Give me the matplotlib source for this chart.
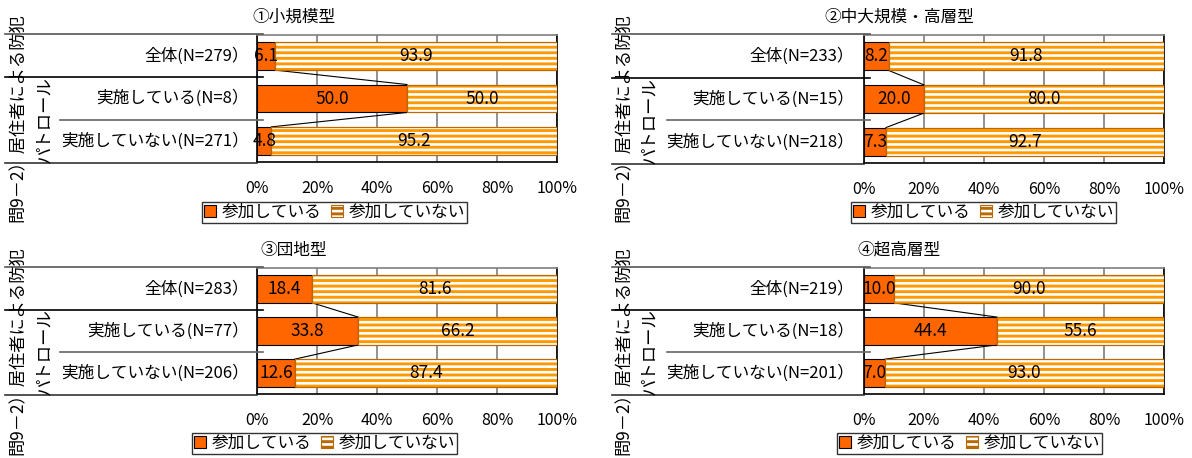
import matplotlib
matplotlib.use("Agg")
import matplotlib.pyplot as plt
from matplotlib.patches import Patch
from matplotlib.lines import Line2D

plt.rcParams['font.family'] = ['Noto Sans CJK JP', 'DejaVu Sans']
plt.rcParams['hatch.linewidth'] = 2.1

# ---- data ----
titles = ["①小規模型", "②中大規模・高層型", "③団地型", "④超高層型"]
row_names = ["全体", "実施している", "実施していない"]
sample_sizes = [[279, 8, 271], [233, 15, 218], [283, 77, 206], [219, 18, 201]]
participating = [[6.1, 50.0, 4.8], [8.2, 20.0, 7.3], [18.4, 33.8, 12.6], [10.0, 44.4, 7.0]]
not_participating = [[93.9, 50.0, 95.2], [91.8, 80.0, 92.7], [81.6, 66.2, 87.4], [90.0, 55.6, 93.0]]
x_ticks = [0, 20, 40, 60, 80, 100]
x_tick_labels = ["0%", "20%", "40%", "60%", "80%", "100%"]
legend_labels = ["参加している", "参加していない"]
side_title = "問9－2）居住者による防犯"
side_sub = "パトロール"

ORANGE = "#FF6600"
STRIPE = "#FF9900"
STRIPE_EDGE = "#B86A00"

W, H = 1192, 458
fig = plt.figure(figsize=(W / 100, H / 100), dpi=100)


def fx(px):
    return px / W


def fy(py):
    return 1 - py / H


# panel layout in pixels: plot box (x0, y0, x1, y1), offsets of the side table
panels = [
    dict(box=(257, 35, 557, 162), left=5, inner=60, col1=18, col2=44, label_r=249, title_x=294, legend=(202, 202)),
    dict(box=(864, 35, 1164, 163), left=612, inner=667, col1=624, col2=649, label_r=854, title_x=899, legend=(851, 202)),
    dict(box=(257, 268, 557, 394), left=5, inner=60, col1=18, col2=44, label_r=249, title_x=294, legend=(192, 433)),
    dict(box=(864, 268, 1164, 394), left=612, inner=667, col1=624, col2=649, label_r=854, title_x=899, legend=(837, 433)),
]

bar_h = 0.66

for k, p in enumerate(panels):
    x0, y0, x1, y1 = p["box"]
    ax = fig.add_axes([fx(x0), fy(y1), fx(x1 - x0), (y1 - y0) / H])
    ypos = list(range(len(row_names)))
    part = participating[k]
    notp = not_participating[k]

    ax.barh(ypos, part, height=bar_h, color=ORANGE, edgecolor="black", linewidth=0.8, zorder=3)
    ax.barh(ypos, notp, left=part, height=bar_h, facecolor="white", edgecolor=STRIPE,
            hatch="---", linewidth=0, zorder=3)
    ax.barh(ypos, notp, left=part, height=bar_h, fill=False, edgecolor=STRIPE_EDGE,
            linewidth=0.9, zorder=4)

    # series lines between adjacent bars
    for i in range(len(ypos) - 1):
        ax.plot([part[i], part[i + 1]], [ypos[i] + bar_h / 2, ypos[i + 1] - bar_h / 2],
                color="black", linewidth=0.8, zorder=2)

    # value labels
    for i in ypos:
        ax.text(part[i] / 2, i, f"{part[i]:.1f}", ha="center", va="center", fontsize=12.5, zorder=5)
        ax.text(part[i] + notp[i] / 2, i, f"{notp[i]:.1f}", ha="center", va="center", fontsize=12.5, zorder=5)

    ax.set_xlim(0, 100)
    ax.set_ylim(len(row_names) - 0.5, -0.5)
    ax.set_xticks(x_ticks)
    ax.set_xticklabels(x_tick_labels, fontsize=11.5)
    ax.tick_params(axis="x", length=0, pad=13)
    ax.set_yticks([])
    ax.grid(axis="x", color="#7f7f7f", linewidth=1.2, zorder=0)
    ax.set_axisbelow(True)
    for s in ["left", "bottom", "right"]:
        ax.spines[s].set_color("black")
        ax.spines[s].set_linewidth(1.2)
    ax.spines["top"].set_color("#7f7f7f")
    ax.spines["top"].set_linewidth(1.2)

    # row labels on the side table
    for i, name in enumerate(row_names):
        ypix = y0 + (y1 - y0) * (i + 0.5) / len(row_names)
        fig.text(fx(p["label_r"]), fy(ypix), f"{name}(N={sample_sizes[k][i]}）",
                 ha="right", va="center", fontsize=12)

    # side table rules
    third = (y1 - y0) / 3
    rules = [
        (p["left"], x0 + 6, y0 - 1, "#555555"),
        (p["left"], x0 + 6, y0 + third, "black"),
        (p["inner"], x0 + 6, y0 + 2 * third, "#666666"),
        (p["left"], x0, y1 + 1, "#333333"),
    ]
    for xa, xb, yy, c in rules:
        fig.add_artist(Line2D([fx(xa), fx(xb)], [fy(yy), fy(yy)], color=c, linewidth=1.2))

    fig.text(fx(p["col1"]), fy(y0 + 83), side_title, rotation=90,
             ha="center", va="center", fontsize=12.4)
    fig.text(fx(p["col2"]), fy(y0 + 2 * third), side_sub, rotation=90,
             ha="center", va="center", fontsize=12.5)

    fig.text(fx(p["title_x"]), fy(y0 - 18), titles[k], ha="center", va="center", fontsize=12)

    handles = [
        Patch(facecolor=ORANGE, edgecolor="black", linewidth=0.8),
        Patch(facecolor="white", edgecolor=STRIPE_EDGE, hatch="---", linewidth=0.8),
    ]
    lx, ly = p["legend"]
    leg = fig.legend(handles, legend_labels, loc="upper left", bbox_to_anchor=(fx(lx), fy(ly)),
                     ncol=2, fontsize=12, frameon=True, fancybox=False, borderpad=0.12,
                     handlelength=0.7, handleheight=0.7, handletextpad=0.35, columnspacing=0.6,
                     borderaxespad=0)
    leg.get_frame().set_edgecolor("black")
    leg.get_frame().set_linewidth(1.0)

fig.savefig("out.png", dpi=100)
